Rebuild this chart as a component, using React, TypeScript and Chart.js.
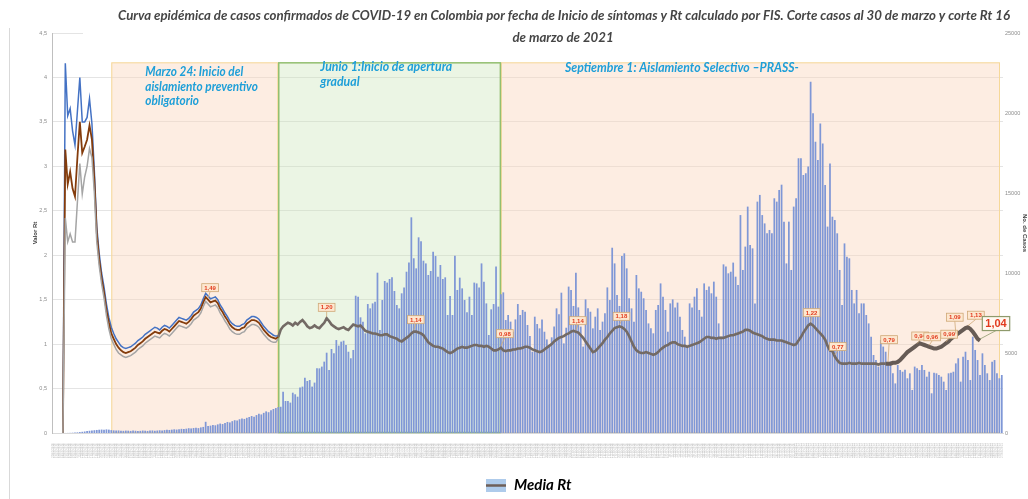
import React, { useEffect, useRef } from 'react';
import { Chart, registerables } from 'chart.js';

Chart.register(...registerables);

// ---------------- DATA ----------------
// Daily confirmed cases by symptom-onset date (FIS), 29/02/2020 .. 27/03/2021
const casesFeb2020 = [0];
const casesMar2020 = [0, 0, 0, 1, 3, 6, 10, 18, 28, 40, 58, 75, 95, 120, 140, 160, 175, 190, 205, 215, 200, 225, 210, 180, 165, 150, 160, 140, 135, 150, 145];
const casesApr2020 = [130, 150, 140, 125, 135, 155, 145, 130, 150, 160, 140, 155, 170, 160, 180, 200, 190, 210, 230, 215, 240, 260, 250, 270, 300, 285, 310, 330, 305, 350];
const casesMay2020 = [380, 700, 430, 460, 500, 480, 540, 590, 560, 620, 690, 660, 740, 800, 780, 860, 900, 880, 950, 1000, 1060, 1020, 1120, 1200, 1160, 1260, 1350, 1300, 1420, 1500, 1560];
const casesJun2020 = [1620, 1640, 2580, 2000, 2000, 1900, 2520, 2420, 2270, 2850, 2900, 3460, 3250, 3310, 2900, 3150, 4040, 4040, 4150, 4460, 5020, 3940, 5250, 4980, 5810, 5460, 5710, 5770, 5500, 5080];
const casesJul2020 = [4670, 5190, 8580, 8520, 7230, 6960, 6230, 8060, 7790, 8100, 8210, 10020, 6440, 8310, 9500, 9400, 9625, 9730, 8875, 8000, 7790, 8730, 9100, 10080, 10650, 13480, 10920, 10290, 12230, 11980, 10770];
const casesAug2020 = [10600, 9875, 10125, 11330, 11060, 9770, 10500, 9625, 9730, 7375, 8560, 7375, 11080, 8940, 9710, 9040, 8310, 7540, 8520, 7375, 9400, 9350, 9100, 10600, 9460, 8100, 6125, 7730, 8060, 10400, 7900];
const casesSep2020 = [8670, 8790, 7060, 7375, 6960, 6330, 7100, 8060, 7375, 7690, 7580, 6750, 6060, 5080, 7270, 6810, 6540, 7100, 6330, 5850, 5400, 5980, 6650, 7790, 7420, 8770, 5600, 6580, 9150, 8940];
const casesOct2020 = [7940, 10020, 7850, 6650, 5400, 8350, 7790, 7580, 6540, 7270, 7790, 6440, 6960, 7480, 9100, 8310, 11580, 10600, 8625, 7940, 11060, 11230, 10290, 8420, 7790, 6960, 9875, 9040, 8830, 8420, 7690];
const casesNov2020 = [6850, 6540, 6230, 7690, 8000, 9350, 8520, 7690, 6330, 8100, 8350, 7850, 8150, 7270, 6440, 6020, 5400, 8100, 7850, 8520, 9040, 7690, 7270, 9350, 8940, 9150, 8730, 9460, 8520, 6850];
const casesDec2020 = [6020, 10540, 10400, 9980, 10080, 10650, 9770, 9250, 13620, 10190, 11650, 14150, 11750, 11540, 8100, 14460, 14880, 13620, 13100, 12480, 12690, 12480, 14670, 14460, 15190, 15520, 13210, 10600, 13210, 10190, 14150];
const casesJan2021 = [14670, 17170, 17170, 16125, 16230, 16650, 21960, 19980, 18210, 17060, 19350, 18100, 15500, 12900, 16850, 13520, 13310, 12480, 10190, 8000, 11850, 11020, 10920, 8940, 8100, 8940, 7480, 8100, 8100, 7375, 6850];
const casesFeb2021 = [6020, 4875, 4560, 4150, 5810, 5400, 5080, 4460, 4460, 3730, 3100, 4250, 3940, 3830, 3960, 3420, 3730, 2690, 4150, 4040, 3940, 4250, 3940, 3520, 3830, 2480, 3770, 3730];
const casesMar2021 = [3625, 3520, 3210, 2690, 3730, 3770, 3830, 4350, 4670, 3210, 4770, 5080, 4560, 3310, 6020, 5190, 4560, 3625, 4980, 4250, 3730, 3310, 4460, 4560, 3730, 3420, 3625];

// Media Rt
const rtMeanFeb2020 = [null];
const rtMeanMar2020 = [null, null, null, 0, 3.19, 2.80, 2.94, 2.75, 2.66, 3.10, 3.50, 3.15, 3.22, 3.30, 3.46, 3.30, 2.85, 2.25, 1.95, 1.74, 1.58, 1.38, 1.24, 1.12, 1.06, 1.00, 0.96, 0.93, 0.91, 0.90, 0.91];
const rtMeanApr2020 = [0.92, 0.94, 0.96, 0.99, 1.01, 1.03, 1.06, 1.08, 1.10, 1.12, 1.14, 1.13, 1.12, 1.15, 1.17, 1.16, 1.14, 1.17, 1.20, 1.23, 1.26, 1.25, 1.24, 1.23, 1.25, 1.28, 1.32, 1.34, 1.36, 1.40];
const rtMeanMay2020 = [1.47, 1.53, 1.50, 1.47, 1.48, 1.49, 1.46, 1.40, 1.36, 1.31, 1.27, 1.22, 1.19, 1.17, 1.16, 1.16, 1.18, 1.19, 1.23, 1.25, 1.27, 1.27, 1.26, 1.24, 1.20, 1.16, 1.13, 1.10, 1.08, 1.07, 1.06];
const rtMeanJun2020 = [1.08, 1.16, 1.20, 1.22, 1.24, 1.23, 1.21, 1.24, 1.22, 1.25, 1.27, 1.24, 1.20, 1.18, 1.19, 1.21, 1.19, 1.18, 1.21, 1.24, 1.29, 1.26, 1.22, 1.20, 1.18, 1.17, 1.18, 1.19, 1.17, 1.16];
const rtMeanJul2020 = [1.19, 1.22, 1.21, 1.20, 1.21, 1.18, 1.15, 1.14, 1.13, 1.12, 1.12, 1.11, 1.10, 1.10, 1.11, 1.11, 1.09, 1.08, 1.07, 1.06, 1.04, 1.03, 1.05, 1.07, 1.09, 1.12, 1.14, 1.14, 1.13, 1.12, 1.10];
const rtMeanAug2020 = [1.06, 1.02, 1.00, 0.98, 0.97, 0.97, 0.96, 0.95, 0.93, 0.91, 0.90, 0.91, 0.93, 0.95, 0.96, 0.97, 0.96, 0.96, 0.97, 0.98, 0.99, 0.99, 0.98, 0.98, 0.97, 0.98, 0.97, 0.95, 0.93, 0.93, 0.94];
const rtMeanSep2020 = [0.96, 0.93, 0.92, 0.93, 0.93, 0.94, 0.94, 0.95, 0.95, 0.96, 0.97, 0.97, 0.96, 0.94, 0.93, 0.92, 0.91, 0.92, 0.94, 0.96, 0.98, 1.00, 1.03, 1.05, 1.07, 1.08, 1.09, 1.11, 1.12, 1.14];
const rtMeanOct2020 = [1.15, 1.14, 1.13, 1.10, 1.07, 1.03, 0.99, 0.95, 0.91, 0.92, 0.95, 0.98, 1.01, 1.05, 1.08, 1.12, 1.15, 1.18, 1.19, 1.20, 1.19, 1.17, 1.14, 1.09, 1.03, 0.97, 0.93, 0.91, 0.90, 0.90, 0.91];
const rtMeanNov2020 = [0.90, 0.89, 0.88, 0.89, 0.91, 0.94, 0.96, 0.98, 0.99, 1.01, 1.02, 1.02, 1.00, 0.99, 0.98, 0.98, 0.97, 0.98, 0.99, 1.00, 1.01, 1.02, 1.04, 1.06, 1.08, 1.08, 1.07, 1.07, 1.06, 1.07];
const rtMeanDec2020 = [1.07, 1.07, 1.08, 1.09, 1.10, 1.10, 1.11, 1.12, 1.13, 1.14, 1.16, 1.16, 1.15, 1.13, 1.12, 1.11, 1.10, 1.09, 1.07, 1.06, 1.05, 1.05, 1.05, 1.04, 1.04, 1.04, 1.03, 1.02, 1.01, 1.00, 0.99];
const rtMeanJan2021 = [1.00, 1.04, 1.08, 1.13, 1.17, 1.21, 1.23, 1.21, 1.18, 1.15, 1.12, 1.09, 1.05, 0.98, 0.93, 0.92, 0.86, 0.82, 0.79, 0.78, 0.78, 0.78, 0.79, 0.78, 0.78, 0.78, 0.79, 0.78, 0.78, 0.78, 0.78];
const rtMeanFeb2021 = [0.78, 0.78, 0.78, 0.77, 0.78, 0.78, 0.78, 0.78, 0.78, 0.79, 0.79, 0.80, 0.82, 0.85, 0.88, 0.91, 0.93, 0.95, 0.97, 0.99, 1.01, 1.00, 0.99, 0.98, 0.97, 0.96, 0.95, 0.95];
const rtMeanMar2021 = [0.96, 0.97, 0.99, 1.01, 1.03, 1.06, 1.08, 1.10, 1.12, 1.14, 1.16, 1.18, 1.19, 1.17, 1.14, 1.10, 1.06, 1.04];

// Rt upper / lower bounds (visible separately until June 1st 2020)
const rtUpperFebMar2020 = [null, null, null, null, 0, 4.16, 3.57, 3.65, 3.40, 3.24, 3.62, 4.00, 3.50, 3.50, 3.55, 3.76, 3.48, 2.95, 2.32, 2.02, 1.80, 1.64, 1.45, 1.30, 1.19, 1.12, 1.06, 1.02, 0.98, 0.96, 0.95, 0.96];
const rtUpperApr2020 = [0.97, 0.99, 1.01, 1.04, 1.06, 1.08, 1.11, 1.13, 1.15, 1.17, 1.19, 1.18, 1.16, 1.19, 1.21, 1.20, 1.18, 1.21, 1.24, 1.27, 1.30, 1.29, 1.28, 1.27, 1.29, 1.32, 1.36, 1.38, 1.40, 1.44];
const rtUpperMay2020 = [1.51, 1.57, 1.54, 1.51, 1.52, 1.53, 1.50, 1.44, 1.40, 1.35, 1.31, 1.26, 1.23, 1.21, 1.20, 1.20, 1.22, 1.23, 1.27, 1.29, 1.31, 1.31, 1.30, 1.28, 1.24, 1.20, 1.17, 1.14, 1.12, 1.10, 1.09];
const rtUpperJun2020 = [1.09];
const rtLowerFebMar2020 = [null, null, null, null, 0, 2.42, 2.15, 2.24, 2.15, 2.15, 2.60, 3.03, 2.69, 2.88, 3.00, 3.20, 3.10, 2.70, 2.15, 1.88, 1.68, 1.52, 1.32, 1.17, 1.06, 1.00, 0.94, 0.90, 0.88, 0.86, 0.85, 0.86];
const rtLowerApr2020 = [0.87, 0.89, 0.91, 0.94, 0.96, 0.98, 1.01, 1.03, 1.05, 1.07, 1.09, 1.08, 1.07, 1.10, 1.12, 1.11, 1.09, 1.12, 1.15, 1.18, 1.21, 1.20, 1.19, 1.18, 1.20, 1.23, 1.27, 1.29, 1.31, 1.35];
const rtLowerMay2020 = [1.42, 1.48, 1.45, 1.42, 1.43, 1.44, 1.41, 1.35, 1.31, 1.26, 1.22, 1.17, 1.14, 1.12, 1.11, 1.11, 1.13, 1.14, 1.18, 1.20, 1.22, 1.22, 1.21, 1.19, 1.15, 1.11, 1.08, 1.05, 1.03, 1.02, 1.02];
const rtLowerJun2020 = [1.06];

// Rt value call-outs
const rtCalloutDates = ['03/05/2020', '21/06/2020', '27/07/2020', '01/09/2020', '02/10/2020', '20/10/2020', '07/01/2021', '17/01/2021', '08/02/2021', '20/02/2021', '25/02/2021', '04/03/2021', '08/03/2021', '13/03/2021', '18/03/2021'];
const rtCalloutTexts = ['1,49', '1,20', '1,14', '0,98', '1,14', '1,18', '1,22', '0,77', '0,79', '0,94', '0,96', '0,99', '1,09', '1,13', '1,04'];

// Phases
const phaseStartDates = ['24/03/2020', '01/06/2020', '01/09/2020'];
const phaseTexts = [
  ['Marzo 24: Inicio del', 'aislamiento preventivo', 'obligatorio'],
  ['Junio 1:Inicio de apertura', 'gradual'],
  ['Septiembre 1: Aislamiento Selectivo –PRASS-'],
];

const titleLines = [
  'Curva epidémica de casos confirmados de COVID-19 en Colombia por fecha de Inicio de síntomas y Rt calculado por FIS. Corte casos al 30 de marzo y corte Rt 16',
  'de marzo de 2021',
];

const rtAxisMax = 4.5;
const rtAxisStep = 0.5;
const casesAxisMax = 25000;
const casesAxisStep = 5000;

// ---------------- derived tables ----------------
const casesAll = [
  ...casesFeb2020, ...casesMar2020, ...casesApr2020, ...casesMay2020, ...casesJun2020, ...casesJul2020,
  ...casesAug2020, ...casesSep2020, ...casesOct2020, ...casesNov2020, ...casesDec2020, ...casesJan2021,
  ...casesFeb2021, ...casesMar2021,
];
const rtMeanAll = [
  ...rtMeanFeb2020, ...rtMeanMar2020, ...rtMeanApr2020, ...rtMeanMay2020, ...rtMeanJun2020, ...rtMeanJul2020,
  ...rtMeanAug2020, ...rtMeanSep2020, ...rtMeanOct2020, ...rtMeanNov2020, ...rtMeanDec2020, ...rtMeanJan2021,
  ...rtMeanFeb2021, ...rtMeanMar2021,
];
const rtUpperAll = [...rtUpperFebMar2020, ...rtUpperApr2020, ...rtUpperMay2020, ...rtUpperJun2020];
const rtLowerAll = [...rtLowerFebMar2020, ...rtLowerApr2020, ...rtLowerMay2020, ...rtLowerJun2020];

function buildDateLabels(n: number): string[] {
  const out: string[] = [];
  const d = new Date(Date.UTC(2020, 1, 29));
  for (let i = 0; i < n; i++) {
    const dd = String(d.getUTCDate()).padStart(2, '0');
    const mm = String(d.getUTCMonth() + 1).padStart(2, '0');
    out.push(`${dd}/${mm}/${d.getUTCFullYear()}`);
    d.setUTCDate(d.getUTCDate() + 1);
  }
  return out;
}
const dateLabels = buildDateLabels(casesAll.length);

// ---------------- styles ----------------
const phaseFills = ['rgba(250,214,190,0.45)', 'rgba(200,226,180,0.36)', 'rgba(250,214,190,0.45)'];
const phaseStrokes = ['#F6D898', '#93BF70', '#F6D898'];
const phaseStrokeWidths = [1, 1.5, 1];
const phaseTextOffsets = [[34, 10], [42, 5], [64, 6]];
const phaseTextWidths = [98, 132, 234];
const phaseBoxTopRt = 4.17;
const calloutOffsets = [[2, -12], [0, -11], [2, -12], [4, -14], [2, -11], [2, -10], [1, -11], [3, -10], [1, -24], [3, -9], [3, -10], [3, -9], [-1, -18], [8, -12], [16, -17]];
const calloutBig = [false, false, false, false, false, false, false, false, false, false, false, false, false, false, true];

function drawFitted(ctx: CanvasRenderingContext2D, text: string, x: number, y: number, sx: number) {
  ctx.save();
  ctx.translate(x, y);
  ctx.scale(sx, 1);
  ctx.fillText(text, 0, 0);
  ctx.restore();
}

const overlayPlugin = {
  id: 'overlay',
  beforeDatasetsDraw(chart: any) {
    const { ctx, chartArea } = chart;
    const xs = chart.scales.x;
    const ys = chart.scales.y;
    const top = ys.getPixelForValue(phaseBoxTopRt);
    const bottom = chartArea.bottom;
    [0, 2, 1].forEach((i) => {
      const x0 = xs.getPixelForValue(dateLabels.indexOf(phaseStartDates[i]));
      const x1 = i + 1 < phaseStartDates.length
        ? xs.getPixelForValue(dateLabels.indexOf(phaseStartDates[i + 1]))
        : chartArea.right - 3;
      ctx.save();
      ctx.fillStyle = phaseFills[i];
      ctx.fillRect(x0, top, x1 - x0, bottom - top);
      ctx.strokeStyle = phaseStrokes[i];
      ctx.lineWidth = phaseStrokeWidths[i];
      ctx.strokeRect(x0 + 0.5, top + 0.5, x1 - x0 - 1, bottom - top - 1);
      ctx.restore();
    });
  },
  afterDatasetsDraw(chart: any) {
    const { ctx } = chart;
    const xs = chart.scales.x;
    const ys = chart.scales.y;
    const top = ys.getPixelForValue(phaseBoxTopRt);
    // phase texts
    ctx.save();
    ctx.fillStyle = '#1E9FD8';
    ctx.font = "italic bold 12.5px Lato, 'Open Sans', sans-serif";
    ctx.textBaseline = 'middle';
    ctx.textAlign = 'left';
    phaseTexts.forEach((lines, i) => {
      const x0 = xs.getPixelForValue(dateLabels.indexOf(phaseStartDates[i]));
      const sx = Math.min(1, phaseTextWidths[i] / ctx.measureText(lines[0]).width);
      lines.forEach((t, j) => {
        drawFitted(ctx, t, x0 + phaseTextOffsets[i][0], top + phaseTextOffsets[i][1] + j * 14.5, sx);
      });
    });
    ctx.restore();
    // call-outs
    rtCalloutDates.forEach((d, k) => {
      const idx = dateLabels.indexOf(d);
      const v = rtMeanAll[idx];
      if (idx < 0 || v == null) return;
      const px = xs.getPixelForValue(idx);
      const py = ys.getPixelForValue(v);
      const big = calloutBig[k];
      const bx = px + calloutOffsets[k][0];
      const by = py + calloutOffsets[k][1];
      ctx.save();
      ctx.font = big ? "bold 11px 'Liberation Sans', Arial" : "bold 6px 'Liberation Sans', Arial";
      const tw = ctx.measureText(rtCalloutTexts[k]).width;
      const w = tw + (big ? 6 : 5);
      const h = big ? 14 : 8;
      ctx.strokeStyle = big ? '#8E9A6C' : '#CFA877';
      ctx.lineWidth = 0.8;
      ctx.beginPath();
      ctx.moveTo(bx, by + h / 2);
      ctx.lineTo(px, py - 1.5);
      ctx.stroke();
      ctx.fillStyle = big ? '#FFF8F0' : '#FDE7CF';
      ctx.fillRect(bx - w / 2, by - h / 2, w, h);
      ctx.lineWidth = big ? 1.2 : 0.8;
      ctx.strokeRect(bx - w / 2, by - h / 2, w, h);
      ctx.fillStyle = '#E23B1E';
      ctx.textAlign = 'center';
      ctx.textBaseline = 'middle';
      ctx.fillText(rtCalloutTexts[k], bx, by + 0.5);
      ctx.restore();
    });
  },
  afterDraw(chart: any) {
    const { ctx, chartArea } = chart;
    ctx.save();
    // white title area covering the top gridline (as in the source)
    ctx.fillStyle = '#ffffff';
    ctx.fillRect(83, 0, chartArea.right - 83, 48);
    ctx.fillStyle = '#454545';
    ctx.font = "italic bold 12px Lato, 'Open Sans', sans-serif";
    const w0 = ctx.measureText(titleLines[0]).width;
    const size = Math.min(14, (12 * 892) / w0);
    ctx.font = `italic bold ${size.toFixed(2)}px Lato, 'Open Sans', sans-serif`;
    ctx.textAlign = 'center';
    ctx.textBaseline = 'middle';
    ctx.fillText(titleLines[0], 564, 16);
    ctx.fillText(titleLines[1], 563, 38);
    // outer chart border line on the left
    ctx.strokeStyle = '#D9D9D9';
    ctx.lineWidth = 1;
    ctx.beginPath();
    ctx.moveTo(9.5, 28);
    ctx.lineTo(9.5, 499);
    ctx.stroke();
    ctx.restore();
  },
};

export default function App() {
  const ref = useRef<HTMLCanvasElement>(null);
  useEffect(() => {
    document.body.style.margin = '0';
    const canvas = ref.current;
    if (!canvas) return;
    Chart.defaults.font.family = "'Liberation Sans', Arial, sans-serif";

    const icon = document.createElement('canvas');
    icon.width = 20;
    icon.height = 13;
    const ictx = icon.getContext('2d')!;
    ictx.fillStyle = '#AECBEB';
    ictx.fillRect(0, 0, 20, 13);
    ictx.strokeStyle = '#6E5F58';
    ictx.lineWidth = 2.5;
    ictx.beginPath();
    ictx.moveTo(0, 6.5);
    ictx.lineTo(20, 6.5);
    ictx.stroke();

    const junioIdx = dateLabels.indexOf(phaseStartDates[1]);
    const thickIdx = dateLabels.indexOf('07/02/2021');

    const chart = new Chart(canvas, {
      type: 'bar',
      data: {
        labels: dateLabels,
        datasets: [
          {
            type: 'line', label: 'Rt inferior', data: rtLowerAll as any, yAxisID: 'y',
            borderColor: '#A5A5A5', borderWidth: 1.5, pointRadius: 0, order: 1,
          },
          {
            type: 'line', label: 'Media Rt', data: rtMeanAll as any, yAxisID: 'y',
            borderColor: '#843C0C', borderWidth: 1.8, pointRadius: 0, order: 2,
            segment: {
              borderColor: (c: any) => (c.p0DataIndex < junioIdx ? '#843C0C' : c.p0DataIndex >= thickIdx ? '#665B55' : '#736A65'),
              borderWidth: (c: any) => (c.p0DataIndex < junioIdx ? 1.8 : c.p0DataIndex >= thickIdx ? 4 : 2.6),
            },
          },
          {
            type: 'line', label: 'Rt superior', data: rtUpperAll as any, yAxisID: 'y',
            borderColor: '#4472C4', borderWidth: 1.5, pointRadius: 0, order: 3,
          },
          {
            type: 'bar', label: 'No. de Casos', data: casesAll, yAxisID: 'y2',
            backgroundColor: '#7F97D6', barPercentage: 0.72, categoryPercentage: 1, order: 4,
          },
        ],
      },
      options: {
        animation: false,
        responsive: false,
        devicePixelRatio: 1,
        events: [],
        layout: { padding: { left: 28, right: 0, top: 33, bottom: 0 } },
        plugins: {
          tooltip: { enabled: false },
          legend: {
            position: 'bottom',
            maxHeight: 33,
            onClick: () => {},
            labels: {
              usePointStyle: true,
              pointStyleWidth: 22,
              padding: 12,
              color: '#262626',
              font: { family: "Lato, 'Open Sans', sans-serif", size: 15, style: 'italic', weight: 'bold' },
              generateLabels: () => [{
                text: 'Media Rt', pointStyle: icon as any, fillStyle: '#AECBEB', strokeStyle: '#6E5F58',
                lineWidth: 0, hidden: false, datasetIndex: 1,
              } as any],
            },
          },
        },
        scales: {
          x: {
            ticks: {
              autoSkip: false, maxRotation: 90, minRotation: 90, padding: 2,
              font: { size: 3 }, color: '#C4C4C4',
            },
            grid: { display: false },
            border: { color: '#D9D9D9' },
            afterFit: (s: any) => { s.height = 33; },
          },
          y: {
            position: 'left', min: 0, max: rtAxisMax,
            ticks: {
              stepSize: rtAxisStep, padding: 5, font: { size: 5.5 }, color: '#8C8C8C',
              callback: (v: any) => String(v).replace('.', ','),
            },
            grid: { color: '#E4E4E4', drawTicks: false },
            border: { color: '#BFBFBF' },
            title: { display: true, text: 'Valor Rt', font: { size: 6, weight: 'bold' }, color: '#404040', padding: { top: 3.4, bottom: 0 } },
            afterFit: (s: any) => { s.width = 24; },
          },
          y2: {
            position: 'right', min: 0, max: casesAxisMax,
            ticks: {
              stepSize: casesAxisStep, padding: 2, font: { size: 5.5 }, color: '#8C8C8C',
              callback: (v: any) => String(v),
            },
            grid: { display: false, drawTicks: false },
            border: { display: false },
            title: { display: true, text: 'No. de Casos', font: { size: 6, weight: 'bold' }, color: '#404040', padding: 0 },
            afterFit: (s: any) => { s.width = 25; },
          },
        },
      },
      plugins: [overlayPlugin],
    } as any);
    return () => chart.destroy();
  }, []);

  return (
    <div style={{ width: 1028, height: 499, background: '#ffffff' }}>
      <canvas ref={ref} width={1028} height={499} style={{ display: 'block' }} />
    </div>
  );
}
